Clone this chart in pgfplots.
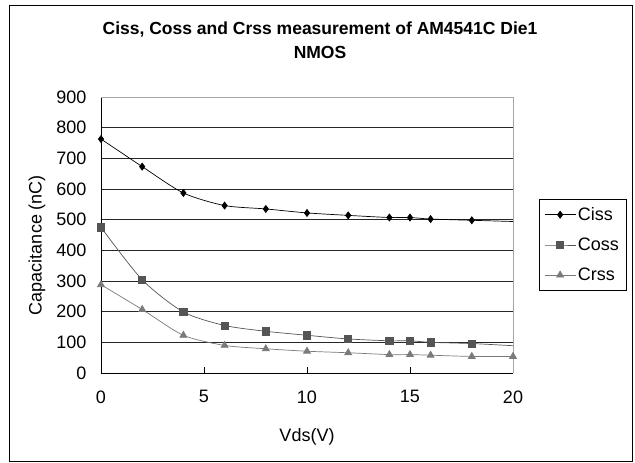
\documentclass[border=0pt]{standalone}
\usepackage{pgfplots}
\pgfplotsset{compat=1.18}
\usepackage{fontspec}
\setmainfont{Liberation Sans}

\definecolor{cossgray}{HTML}{555555}
\definecolor{crssgray}{HTML}{7A7A7A}

\begin{document}
\begin{tikzpicture}[x=1pt,y=1pt]
    \useasboundingbox (0,0) rectangle (635,463);
    \draw[black, line width=0.8pt] (9,2) rectangle (632,458);

    \begin{axis}[
        at={(101pt,90pt)},
        anchor=south west,
        scale only axis,
        clip=false,
        width=412pt,
        height=276pt,
        xmin=0, xmax=20,
        ymin=0, ymax=900,
        xtick={0,5,10,15,20},
        ytick distance=100,
        axis x line*=bottom,
        axis y line*=left,
        axis line style={black, line width=0.8pt},
        x axis line style={-},
        y axis line style={-},
        xtick style={black, line width=0.6pt},
        xtick pos=bottom,
        tick align=inside,
        major tick length=6pt,
        ytick style={draw=none},
        ymajorgrids,
        grid style={black!85, line width=0.6pt},
        tick label style={font=\fontsize{18}{20}\selectfont},
        /pgf/number format/assume math mode=true,
        yticklabel style={xshift=-11pt},
        xticklabel style={yshift=-14pt},
        xlabel={Vds(V)},
        ylabel={Capacitance (nC)},
        label style={font=\fontsize{18}{20}\selectfont},
        xlabel style={at={(0.5,0)}, anchor=center, yshift=-64pt},
        ylabel style={at={(rel axis cs:0,0.5)}, anchor=center, yshift=64pt, xshift=-10pt},
        legend style={
            at={(1.063,0.63)}, anchor=north west,
            draw=black, line width=0.6pt,
            font=\fontsize{18}{20}\selectfont,
            inner xsep=5pt, inner ysep=6pt,
            row sep=12pt,
            legend cell align=left,
        },
        legend image code/.code={
            \draw[#1] (0pt,0pt) -- (15pt,0pt) -- (31pt,0pt);
            \draw[#1, only marks] plot coordinates {(15.5pt,0pt)};
        },
    ]

    % Ciss
    \addplot[black, line width=0.7pt, smooth, tension=0.45,
        mark=diamond*, mark size=3.5pt, mark options={solid, fill=black},
        mark indices={1,...,11}]
        coordinates {(0,763) (2,673) (4,587) (6,546) (8,535) (10,522)
                     (12,514) (14,507) (15,507) (16,502) (18,498) (20,494)};

    % Coss
    \addplot[cossgray, line width=0.7pt, smooth, tension=0.45,
        mark=square*, mark size=3.6pt, mark options={solid, fill=cossgray},
        mark indices={1,...,11}]
        coordinates {(0,475) (2,304) (4,199) (6,155) (8,136) (10,123)
                     (12,111) (14,105) (15,105) (16,100) (18,96) (20,89)};

    % Crss
    \addplot[crssgray, line width=0.7pt, smooth, tension=0.45,
        mark=triangle*, mark size=4pt, mark options={solid, fill=crssgray}]
        coordinates {(0,288) (2,207) (4,123) (6,90) (8,79) (10,71)
                     (12,66) (14,60) (15,60) (16,58) (18,54) (20,54)};

    \legend{Ciss, Coss, Crss}

    % plot area border (top and right)
    \draw[gray!70, line width=0.6pt] (rel axis cs:0,1) -- (rel axis cs:1,1) -- (rel axis cs:1,0);

    % title
    \node[font=\bfseries\fontsize{17.5}{24}\selectfont, align=center, anchor=center]
        at (rel axis cs:0.5316,1.2065) {Ciss, Coss and Crss measurement of AM4541C Die1\\NMOS};
    \end{axis}
\end{tikzpicture}
\end{document}
